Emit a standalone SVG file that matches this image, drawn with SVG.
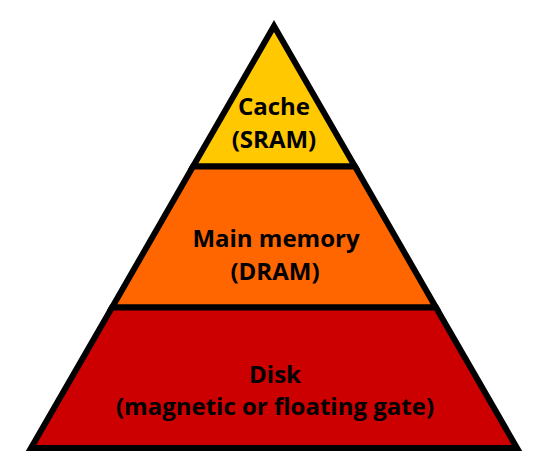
<svg xmlns="http://www.w3.org/2000/svg" width="549" height="458" viewBox="0 0 549 458">
<style>
.layer{stroke:#000;stroke-width:6;stroke-linejoin:miter}
.lbl{font-family:"Open Sans","Liberation Sans",sans-serif;font-weight:bold;font-size:24px;fill:#000;text-anchor:middle}
</style>
<rect width="549" height="458" fill="#fff"/>
<g id="cache">
<polygon class="layer" fill="#FFC800" points="274,26 355,166.5 193,166.5"/>
<text class="lbl" x="274" y="115">Cache</text>
<text class="lbl" x="274" y="148">(SRAM)</text>
</g>
<g id="main-memory">
<polygon class="layer" fill="#FF6600" points="193,166.5 355,166.5 436,307.5 112,307.5"/>
<text class="lbl" x="276" y="247">Main memory</text>
<text class="lbl" x="275" y="280">(DRAM)</text>
</g>
<g id="disk">
<polygon class="layer" fill="#CC0000" points="112,307.5 436,307.5 517,448 31,448"/>
<text class="lbl" x="275" y="383">Disk</text>
<text class="lbl" x="275" y="415">(magnetic or floating gate)</text>
</g>
<g id="connectors"/>
</svg>
